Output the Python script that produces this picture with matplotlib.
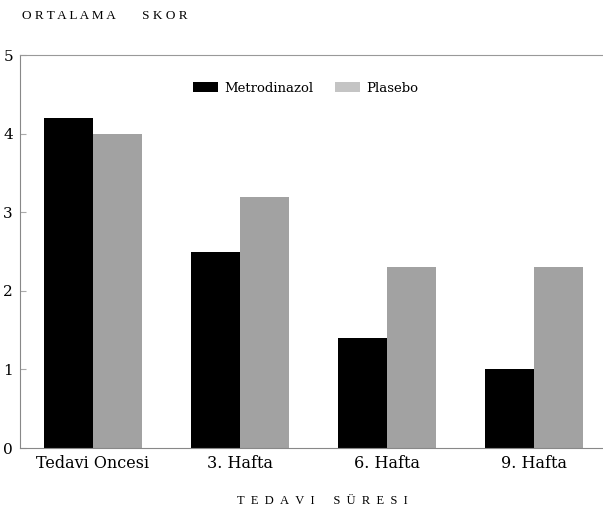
import numpy as np
import matplotlib.pyplot as plt
from matplotlib.patches import Patch

# veriler
kategoriler = ['Tedavi Oncesi', '3. Hafta', '6. Hafta', '9. Hafta']
metrodinazol = [4.2, 2.5, 1.4, 1.0]
plasebo = [4.0, 3.2, 2.3, 2.3]
y_ticks = [0, 1, 2, 3, 4, 5]

plt.rcParams['font.family'] = ['DejaVu Serif', 'Liberation Serif']

fig = plt.figure(figsize=(6.03, 5.15), dpi=100)
ax = fig.add_axes([0.033, 0.130, 0.967, 0.763])

x = np.arange(len(kategoriler))
w = 0.335
ax.bar(x - w / 2, metrodinazol, w, color='black', label='Metrodinazol')
ax.bar(x + w / 2, plasebo, w, color='#a2a2a2', label='Plasebo')

ax.set_xlim(-0.497, 3.47)
ax.set_ylim(0, 5)
ax.set_yticks(y_ticks)
ax.set_yticklabels([str(v) for v in y_ticks], fontsize=11)
ax.set_xticks(x)
ax.set_xticklabels(kategoriler, fontsize=11.5)
ax.tick_params(axis='x', length=0, pad=5)
ax.tick_params(axis='y', direction='in', length=4, color='#aaaaaa', pad=5)

ax.spines['right'].set_visible(False)
for s in ['left', 'bottom']:
    ax.spines[s].set_color('#888888')
    ax.spines[s].set_linewidth(0.8)
ax.spines['top'].set_color('#999999')
ax.spines['top'].set_linewidth(0.8)
ax.spines['top'].set_linestyle((0, (3, 1)))

handles = [Patch(facecolor='black', label='Metrodinazol'),
           Patch(facecolor='#c4c4c4', label='Plasebo')]
ax.legend(handles=handles, loc='center left', bbox_to_anchor=(0.297, 0.916),
          ncol=2, frameon=False, fontsize=9.5, handlelength=1.9, handleheight=0.8,
          columnspacing=1.6, handletextpad=0.5, borderpad=0, borderaxespad=0)

tfont = ['Liberation Serif', 'DejaVu Serif']
sp = '\u2002'
ust = ' '.join('ORTALAMA') + ' ' * 8 + ' '.join('SKOR')
alt = (sp.join('TEDAVI')) + sp * 3 + sp.join('SÜRESI')
fig.text(0.036, 0.968, ust, fontsize=9.5, va='center', ha='left', family=tfont)
fig.text(0.535, 0.028, alt, fontsize=9, va='center', ha='center', family=tfont)

fig.savefig('out.png', dpi=100)
